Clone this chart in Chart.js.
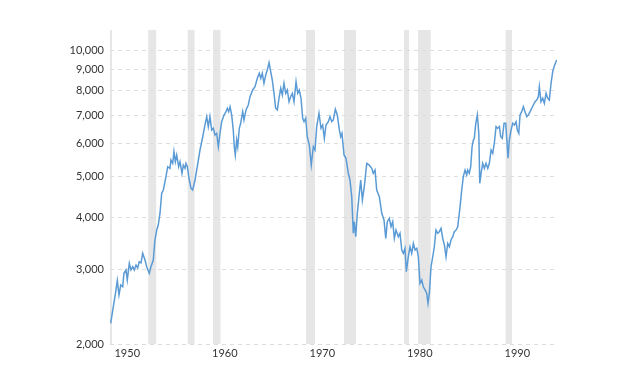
<!DOCTYPE html>
<html>
<head>
<meta charset="utf-8">
<script src="https://cdn.jsdelivr.net/npm/chart.js@4.4.1/dist/chart.umd.min.js"></script>
<style>
  html, body { margin: 0; padding: 0; background: #ffffff; }
  canvas { display: block; }
</style>
</head>
<body>
<canvas id="c" width="635" height="380"></canvas>
<script>
const years = [
1949.61,1949.88,1950.05,1950.29,1950.46,1950.64,1950.84,1950.97,1951.18,1951.31,
1951.52,1951.69,1951.87,1952.03,1952.21,1952.38,1952.54,1952.72,1952.89,1953.13,
1953.30,1953.57,1953.74,1953.98,1954.15,1954.33,1954.49,1954.67,1954.84,1955.01,
1955.28,1955.46,1955.69,1955.79,1955.97,1956.10,1956.24,1956.38,1956.58,1956.72,
1956.92,1957.06,1957.23,1957.33,1957.47,1957.67,1957.85,1958.02,1958.26,1958.49,
1958.77,1959.05,1959.28,1959.46,1959.62,1959.79,1959.97,1960.13,1960.31,1960.48,
1960.65,1960.82,1960.99,1961.23,1961.44,1961.57,1961.71,1961.85,1962.02,1962.18,
1962.29,1962.39,1962.53,1962.64,1962.80,1962.94,1963.15,1963.28,1963.49,1963.72,
1963.90,1964.17,1964.41,1964.65,1964.85,1965.00,1965.16,1965.33,1965.51,1965.67,
1965.85,1966.02,1966.18,1966.36,1966.53,1966.70,1966.87,1967.05,1967.21,1967.38,
1967.56,1967.72,1967.90,1968.07,1968.24,1968.41,1968.62,1968.79,1968.95,1969.13,
1969.30,1969.44,1969.61,1969.77,1969.98,1970.18,1970.39,1970.56,1970.74,1970.97,
1971.18,1971.35,1971.52,1971.69,1971.93,1972.10,1972.28,1972.44,1972.65,1972.85,
1973.06,1973.20,1973.33,1973.54,1973.74,1973.98,
1974.15,1974.33,1974.49,1974.59,1974.74,1974.90,1975.11,1975.25,1975.42,1975.62,
1975.87,1976.13,1976.38,1976.54,1976.72,1976.89,1977.16,1977.41,1977.64,1977.82,
1977.98,1978.18,1978.36,1978.53,1978.70,1978.87,1979.11,1979.28,1979.46,1979.62,
1979.79,1979.93,1980.13,1980.31,1980.48,1980.65,1980.82,1981.00,1981.16,1981.33,
1981.51,1981.67,1981.85,1982.02,1982.15,1982.29,1982.46,1982.64,1982.80,1982.97,
1983.15,1983.31,1983.49,1983.66,1983.83,1984.00,1984.17,1984.34,1984.51,1984.69,
1984.85,1985.03,1985.20,1985.44,1985.61,1985.77,1985.95,1986.12,1986.22,1986.39,
1986.53,1986.67,1986.80,1986.90,1987.05,1987.21,1987.36,1987.46,1987.62,1987.76,
1987.93,1988.10,1988.28,1988.44,1988.62,1988.79,1988.95,1989.13,1989.30,1989.47,
1989.61,1989.77,1989.95,1990.12,1990.26,1990.36,1990.49,1990.67,1990.84,1991.01,
1991.18,1991.31,1991.46,1991.59,1991.76,1991.93,1992.10,1992.28,1992.44,1992.62,
1992.79,1992.95,1993.13,1993.30,1993.47,1993.57,1993.74,1993.92,1994.08,1994.26,
1994.43,1994.59,1994.77,1994.94,1995.08,1995.21,1995.35
];

const values = [
2240,2453,2591,2829,2615,2762,2736,2946,3000,2840,
3111,3000,3053,3000,3082,3032,3138,3116,3286,3168,
3053,2946,3053,3168,3534,3733,3837,4098,4564,4647,
4999,5280,5233,5476,5378,5731,5427,5629,5280,5427,
5092,5328,5233,5378,5280,4909,4691,4647,4909,5280,
5785,6221,6635,6943,6573,6943,6456,6516,6279,6338,
5890,6338,6756,7008,7136,7270,7136,7334,7008,6456,
5890,5629,6110,5890,6516,6697,7136,6819,7203,7403,
7747,8036,8182,8567,8805,8567,8805,8336,8723,8965,
9331,8882,8488,7892,7270,7203,7679,8111,7819,8336,
7892,8036,7536,7747,7892,7536,8409,7892,8036,7679,
6883,6756,6883,6221,5945,5328,5890,5785,6573,7074,
6516,6635,6167,6635,6756,6943,6756,6819,7230,7008,
6456,6221,6338,5629,5528,5092,
4909,4480,3667,3907,3599,4091,4564,4909,4399,4732,
5378,5328,5233,5092,5185,4647,4480,4091,3943,3567,
3907,3980,3801,3907,3567,3733,3599,3667,3346,3286,
3377,2972,3225,3406,3286,3470,3346,3377,3225,2788,
2839,2736,2689,2641,2499,2641,3053,3225,3406,3733,
3667,3699,3768,3567,3439,3225,3470,3406,3534,3599,
3699,3733,3801,4242,4647,4999,5185,5045,5185,5092,
5280,5890,6110,6167,6697,7008,6338,4821,5137,5378,
5233,5378,5233,5378,5785,5681,6001,6573,6516,6573,
6221,6167,6697,6697,6001,5528,6110,6456,6697,6635,
6756,6456,6338,7008,7136,7334,7136,6943,7008,7136,
7270,7403,7536,7605,7747,8182,7536,7679,7472,7892,
7679,7605,8336,8882,9129,9300,9470
];

const recessionStart = [1948.83, 1953.46, 1957.51, 1960.10, 1969.64, 1973.54, 1979.69, 1981.13, 1990.12];
const recessionEnd   = [1949.75, 1954.28, 1958.21, 1960.87, 1970.56, 1974.77, 1980.21, 1982.43, 1990.77];

const xTicks = [1950, 1960, 1970, 1980, 1990];
const yTicks = [2000, 3000, 4000, 5000, 6000, 7000, 8000, 9000, 10000];

const points = years.map((x, i) => ({ x: x, y: values[i] }));

const recessionBands = {
  id: 'recessionBands',
  beforeDraw(chart) {
    const ctx = chart.ctx;
    const area = chart.chartArea;
    const xs = chart.scales.x;
    ctx.save();
    ctx.fillStyle = '#e6e6e6';
    for (let i = 0; i < recessionStart.length; i++) {
      let x1 = xs.getPixelForValue(recessionStart[i]);
      let x2 = xs.getPixelForValue(recessionEnd[i]);
      x1 = Math.max(x1, area.left);
      x2 = Math.min(x2, area.right);
      if (x2 > x1) ctx.fillRect(x1, area.top, x2 - x1, area.bottom - area.top);
    }
    ctx.restore();
  }
};

new Chart(document.getElementById('c'), {
  type: 'line',
  data: {
    datasets: [{
      data: points,
      borderColor: '#5b9bd5',
      borderWidth: 1.5,
      pointRadius: 0,
      tension: 0,
      fill: false
    }]
  },
  options: {
    responsive: false,
    animation: false,
    layout: { padding: { top: 30, right: 78, bottom: 0, left: 0 } },
    plugins: { legend: { display: false }, tooltip: { enabled: false } },
    scales: {
      x: {
        type: 'linear',
        min: 1949.54,
        max: 1995.38,
        afterBuildTicks(scale) { scale.ticks = xTicks.map(v => ({ value: v })); },
        afterFit(scale) { scale.height = 36; },
        grid: { display: false, drawTicks: false },
        border: { display: false },
        ticks: {
          align: 'start',
          autoSkip: false,
          maxRotation: 0,
          padding: 3,
          color: '#333333',
          font: { family: 'Lato', size: 11 },
          callback: (v) => String(v)
        }
      },
      y: {
        type: 'logarithmic',
        min: 2000,
        max: 11160,
        afterBuildTicks(scale) { scale.ticks = yTicks.map(v => ({ value: v })); },
        afterFit(scale) { scale.width = 110; },
        grid: { color: '#dddddd', drawTicks: false, lineWidth: 1 },
        border: { display: false, dash: [4, 4] },
        ticks: {
          padding: 6,
          color: '#333333',
          font: { family: 'Lato', size: 11 },
          callback: (v) => Number(v).toLocaleString('en-US')
        }
      }
    }
  },
  plugins: [recessionBands]
});
</script>
</body>
</html>
